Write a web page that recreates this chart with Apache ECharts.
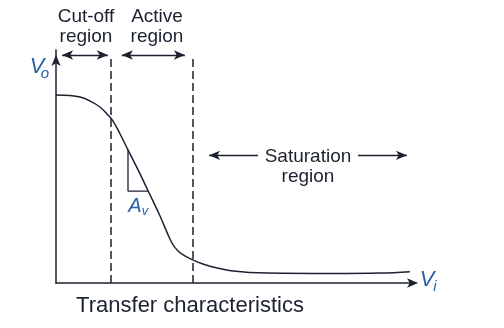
<!DOCTYPE html>
<html><head><meta charset="utf-8">
<script src="https://cdn.jsdelivr.net/npm/echarts@6/dist/echarts.min.js"></script>
<style>html,body{margin:0;padding:0;background:#fff}#c{width:504px;height:328px}</style>
</head><body><div id="c"></div>
<script>
// Transfer characteristic curve (Vi, Vo) in arbitrary units
const vi = [0, 0.39, 0.67, 0.94, 1.22, 1.44, 1.58, 1.78, 2.0, 2.28, 2.56, 2.89, 3.22, 3.39, 3.58, 3.81, 4.08, 4.36, 4.92, 5.86, 7.69, 9.0, 9.83];
const vo = [8.28, 8.26, 8.19, 8.02, 7.75, 7.40, 7.14, 6.56, 5.86, 4.98, 4.05, 2.95, 1.76, 1.41, 1.19, 1.01, 0.84, 0.70, 0.53, 0.44, 0.42, 0.44, 0.50];
// region boundaries (Vi) and top of the dashed lines
const boundaries = [1.53, 3.81];
const boundaryTop = 10.04;
// slope triangle (Av) corners
const triX = [2.0, 2.0, 2.56];
const triY = [5.86, 4.05, 4.05];
// region arrows [x1, x2, y, headAtStart, headAtEnd]
const regionArrows = [
  [0.17, 1.44, 10.04, true, true],
  [1.83, 3.58, 10.04, true, true],
  [4.25, 5.61, 5.62, true, false],
  [8.39, 9.75, 5.62, false, true]
];

const ink = '#1c2130';
const blue = '#2a62a8';
const curve = vi.map((x, i) => [x, vo[i]]);
const txt = (text, x, y, font, fill) => ({type: 'text', x, y, style: {text, font, fill: fill || ink, align: 'center', verticalAlign: 'middle'}});
const F = '"Liberation Sans"';

const chart = echarts.init(document.getElementById('c'));
chart.setOption({
  animation: false,
  grid: {left: 56, right: 88, top: 50, bottom: 45},
  xAxis: {type: 'value', min: 0, max: 10,
    axisLine: {lineStyle: {color: ink, width: 1.5}, symbol: ['none', 'arrow'], symbolSize: [7, 11], symbolOffset: [0, 2]},
    axisTick: {show: false}, axisLabel: {show: false}, splitLine: {show: false}},
  yAxis: {type: 'value', min: 0, max: 10.26,
    axisLine: {lineStyle: {color: ink, width: 1.5}, symbol: ['none', 'arrow'], symbolSize: [7, 11], symbolOffset: [0, -5]},
    axisTick: {show: false}, axisLabel: {show: false}, splitLine: {show: false}},
  series: [
    {type: 'line', data: curve, smooth: 0.4, symbol: 'none', clip: false,
     lineStyle: {color: ink, width: 1.5}},
    {type: 'line', data: triX.map((x, i) => [x, triY[i]]), symbol: 'none', clip: false,
     lineStyle: {color: ink, width: 1.3},
     markLine: {silent: true, symbol: 'none', label: {show: false}, animation: false,
       lineStyle: {color: ink, type: [8, 4], width: 1.5},
       data: boundaries.map(b => [{coord: [b, 0]}, {coord: [b, boundaryTop]}])}},
    {type: 'line', data: curve, symbol: 'none', lineStyle: {opacity: 0}, silent: true,
     markLine: {silent: true, symbolSize: [7, 11], label: {show: false}, animation: false,
       lineStyle: {color: ink, type: 'solid', width: 1.3},
       data: regionArrows.map(a => [
         {coord: [a[0], a[2]], symbol: a[3] ? 'arrow' : 'none'},
         {coord: [a[1], a[2]], symbol: a[4] ? 'arrow' : 'none'}])}}
  ],
  graphic: [
    txt('Cut-off', 86, 17, '19px ' + F),
    txt('region', 86, 37, '19px ' + F),
    txt('Active', 157, 17, '19px ' + F),
    txt('region', 157, 37, '19px ' + F),
    txt('Saturation', 308, 157, '19px ' + F),
    txt('region', 308, 177, '19px ' + F),
    txt('Transfer characteristics', 190, 306, '22px ' + F),
    txt('V', 37, 67, 'italic 22px ' + F, blue),
    txt('o', 45, 74, 'italic 15px ' + F, blue),
    txt('A', 135, 206, 'italic 20px ' + F, blue),
    txt('v', 145, 211, 'italic 13px ' + F, blue),
    txt('V', 427, 280, 'italic 22px ' + F, blue),
    txt('i', 435, 287, 'italic 15px ' + F, blue)
  ]
});
</script></body></html>
